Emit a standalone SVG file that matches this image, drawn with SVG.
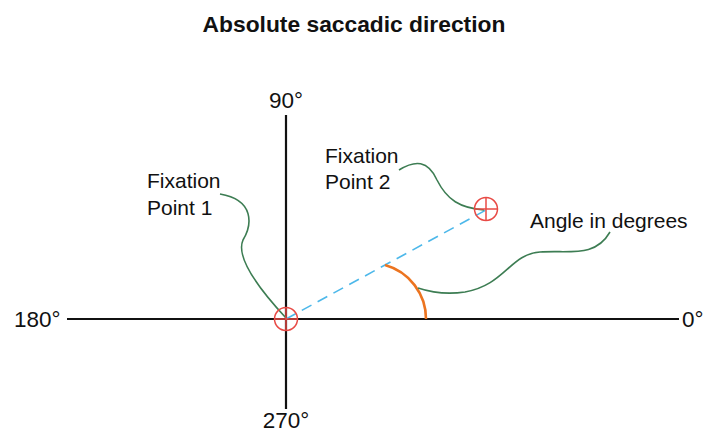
<svg xmlns="http://www.w3.org/2000/svg" width="704" height="432" viewBox="0 0 704 432">
<style>
text{font-family:"Liberation Sans",Arial,sans-serif;fill:#111}
.lbl{font-size:21px}
.ax{stroke:#111;stroke-width:2.2;fill:none}
.lead{stroke:#3d7d53;stroke-width:1.6;fill:none}
.fp{stroke:#e84a45;stroke-width:1.5;fill:none}
</style>
<rect width="704" height="432" fill="#fff"/>
<text x="354" y="32" font-size="22.8" font-weight="bold" text-anchor="middle">Absolute saccadic direction</text>
<g id="axes">
<line class="ax" x1="67" y1="319" x2="679" y2="319"/>
<line class="ax" x1="286" y1="115" x2="286" y2="409"/>
</g>
<g id="axis-labels">
<text x="286" y="108" text-anchor="middle" font-size="22.5">90°</text>
<text x="286" y="428" text-anchor="middle" font-size="22.5">270°</text>
<text x="14" y="327" font-size="22.5">180°</text>
<text x="682" y="327" font-size="22.5">0°</text>
</g>
<g id="connectors">
<line x1="286" y1="319" x2="486" y2="210" stroke="#4db8ea" stroke-width="1.6" stroke-dasharray="11,7"/>
<path d="M385,265 A56,56 0 0 1 426,319" stroke="#ec7420" stroke-width="2.6" fill="none"/>
<path class="lead" d="M220,194 C255,200 252,225 243,240 C235,258 260,290 286,318"/>
<path class="lead" d="M399,170 C415,160 428,160 437,180 C447,200 460,208 484,210"/>
<path class="lead" d="M610,232 C595,258 570,250 540,252 C510,254 505,285 465,292 C445,295 430,292 418,288"/>
</g>
<g id="fixation1">
<circle class="fp" cx="286" cy="319" r="11.5"/>
<line class="fp" x1="274.5" y1="319" x2="297.5" y2="319"/>
<line class="fp" x1="286" y1="307.5" x2="286" y2="330.5"/>
<text class="lbl" x="147" y="188">Fixation</text>
<text class="lbl" x="147" y="215">Point 1</text>
</g>
<g id="fixation2">
<circle class="fp" cx="486" cy="209" r="11.5"/>
<line class="fp" x1="474.5" y1="209" x2="497.5" y2="209"/>
<line class="fp" x1="486" y1="197.5" x2="486" y2="220.5"/>
<text class="lbl" x="325" y="163">Fixation</text>
<text class="lbl" x="325" y="189">Point 2</text>
</g>
<g id="angle">
<text class="lbl" x="530" y="228">Angle in degrees</text>
</g>
</svg>
